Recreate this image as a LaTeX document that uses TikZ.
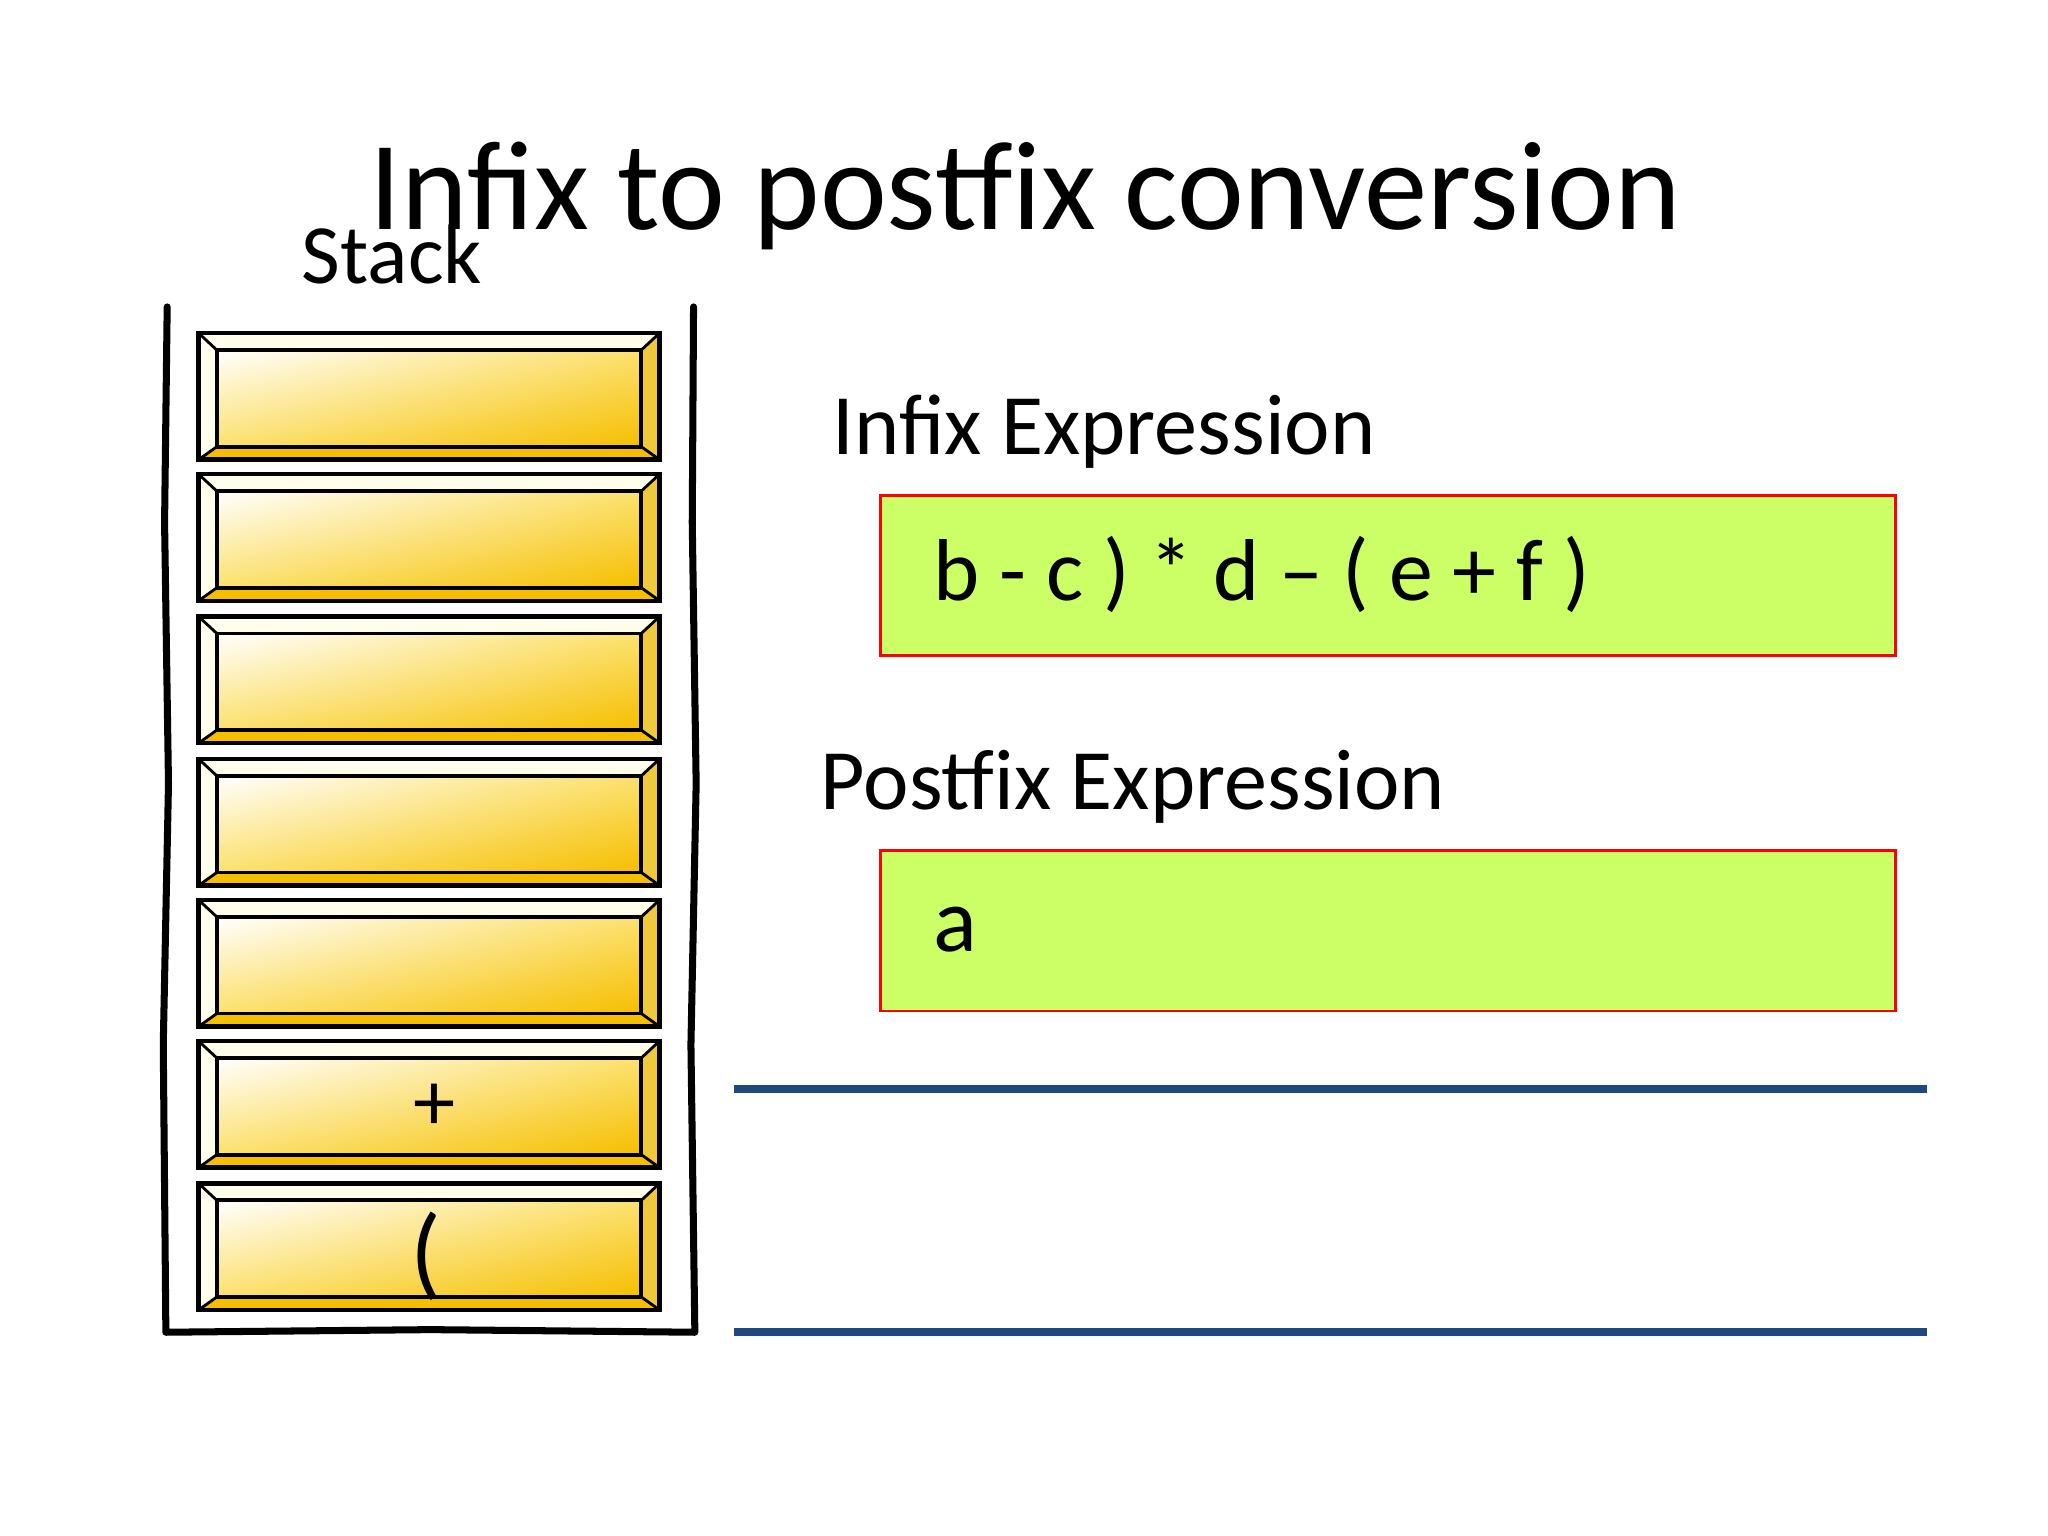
\documentclass[tikz,border=0pt]{standalone}
\usepackage{fontspec}
\setmainfont{Carlito}
\usetikzlibrary{shadings}
\begin{document}
\begin{tikzpicture}[x=0.01306cm,y=-0.01306cm,
  gbox/.style={draw=red,fill={rgb,255:red,204;green,255;blue,102},line width=0.8pt},
  bline/.style={draw={rgb,255:red,31;green,73;blue,125},line width=2.2pt},
  wall/.style={draw=black,line width=2pt,line cap=round,line join=round}]
\definecolor{gold}{RGB}{245,190,0}
\definecolor{midgold}{RGB}{252,225,110}
\definecolor{sidegold}{RGB}{240,200,60}
\useasboundingbox (0,0) rectangle (1568,1176);
\node (title) at (785,150) {\fontsize{36}{40}\selectfont Infix to postfix conversion};
\node (stk) at (300,195) {\fontsize{24}{28}\selectfont Stack};
\node[anchor=base west,inner sep=0pt] (inl) at (637,348) {\fontsize{24.5}{30}\selectfont Infix Expression};
\node[anchor=base west,inner sep=0pt] (pol) at (628,620) {\fontsize{24.5}{30}\selectfont Postfix Expression};
\node[gbox,minimum width=777*0.01306cm,minimum height=123*0.01306cm,anchor=north west] (inb) at (673,378) {};
\node[gbox,minimum width=777*0.01306cm,minimum height=123*0.01306cm,anchor=north west] (pob) at (673,650) {};
\node[anchor=west,inner sep=0pt] (inx) at (714,440) {\fontsize{25}{30}\selectfont b - c ) * d -- ( e + f )};
\node[anchor=west,inner sep=0pt] (pox) at (714,712) {\fontsize{26}{30}\selectfont a};
\draw[bline] (562,834) coordinate (l1a) -- (1475,834) coordinate (l1b);
\draw[bline] (562,1020) coordinate (l2a) -- (1475,1020) coordinate (l2b);
\draw[wall] (128,235) -- (126,400) -- (129,600) -- (125,800) -- (127,1020) -- (330,1018) -- (532,1020) -- (529,800) -- (533,600) -- (530,400) -- (531,235);
\foreach \t [count=\i] in {255,363,472,581,689,797,906}{
  \pgfmathsetmacro{\b}{\t+97}
  \fill[white!92!yellow] (152,\t) rectangle (505,\b);
  \shade[upper left=white,lower right=gold,upper right=midgold,lower left=midgold] (166,\t+13) rectangle (491,\b-10);
  \fill[gold] (152,\b) -- (166,\b-10) -- (491,\b-10) -- (505,\b) -- cycle;
  \fill[sidegold] (505,\t) -- (491,\t+13) -- (491,\b-10) -- (505,\b) -- cycle;
  \draw[line width=1.3pt] (152,\t) rectangle (505,\b);
  \draw[line width=1.1pt] (166,\t+13) rectangle (491,\b-10);
  \draw[line width=0.8pt] (152,\t) -- (166,\t+13) (505,\t) -- (491,\t+13) (152,\b) -- (166,\b-10) (505,\b) -- (491,\b-10);
}
\node (plus) at (333,848) {\fontsize{24}{28}\selectfont +};
\node (par) at (326,962) {\fontsize{29}{32}\selectfont (};
\end{tikzpicture}
\end{document}
